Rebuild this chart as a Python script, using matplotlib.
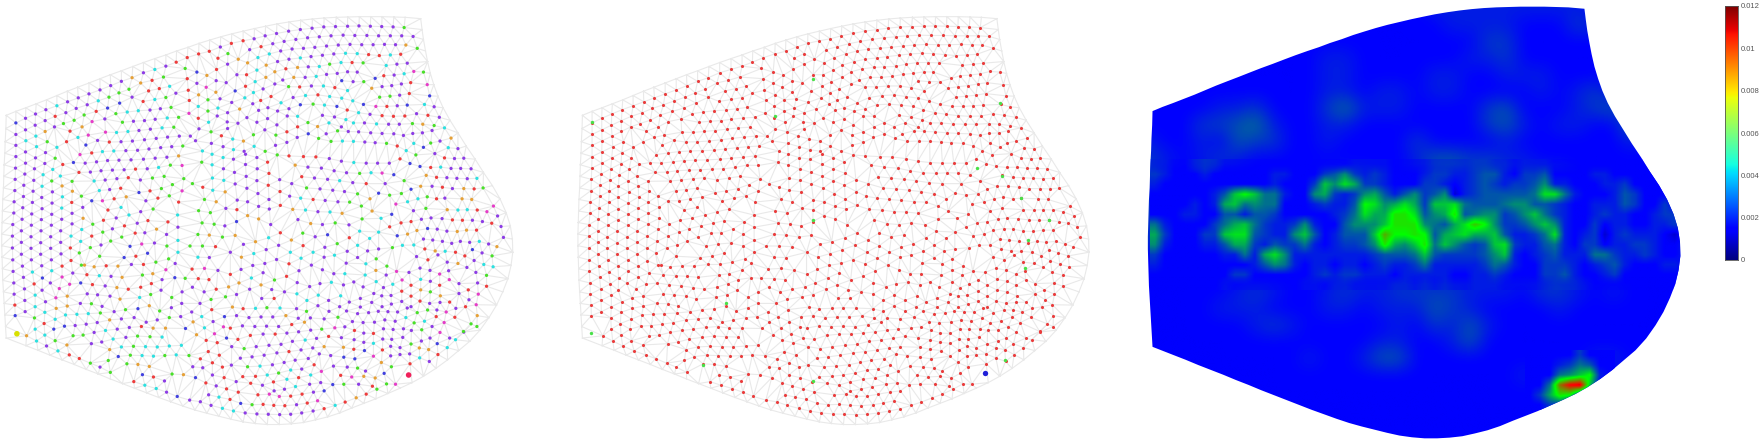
import numpy as np
import matplotlib
matplotlib.use("Agg")
import matplotlib.pyplot as plt
import matplotlib.tri as mtri
from matplotlib.colors import LinearSegmentedColormap
from matplotlib.patches import Polygon
from matplotlib.path import Path

# Mesh outline
outline = [(18,345),(46,333),(75,322),(105,310),(135,298),(165,285),(195,272),(225,260),(258,247),(290,234),(320,222),(352,210),(385,197),(416,185),(449,173),(481,162),(512,150),(545,139),(577,127),(608,117),(640,107),(672,98),(705,90),(738,82),(770,75),(803,68),(838,62),(872,57),(906,53),(940,50),(975,48),(1008,47),(1042,46),(1075,46),(1108,46),(1142,47),(1175,48),(1220,52),
 (1224,85),(1228,115),(1234,150),(1240,182),(1248,218),(1258,252),(1270,287),(1285,322),(1305,360),(1328,398),(1352,438),(1378,478),(1402,518),(1428,558),(1450,598),(1468,640),(1480,680),(1486,720),(1487,760),(1482,800),(1473,840),(1458,880),(1440,920),(1418,958),(1392,996),(1362,1030),(1330,1058),(1298,1086),(1264,1112),(1228,1136),(1195,1155),(1160,1172),(1125,1188),(1090,1204),(1055,1218),(1020,1232),(985,1247),(950,1259),(915,1268),(880,1276),(845,1280),(810,1282),(775,1282),(740,1279),(705,1274),(670,1266),(635,1257),(600,1248),(565,1238),(530,1226),(495,1213),(460,1200),(425,1186),(390,1172),(355,1158),(320,1144),(285,1129),(250,1115),(215,1100),(180,1086),(145,1072),(110,1057),(75,1043),(18,1020),
 (16,985),(14,950),(12,915),(10,880),(8,845),(7,810),(6,775),(5,740),(5,705),(6,670),(7,635),(8,600),(10,565),(11,530),(12,495),(14,460),(15,425),(17,385)]

# Interior nodes: (x, y, colour class in the left panel)
nodes = [
 (1172,79,'g'),(1140,77,'p'),(1107,76,'p'),(1074,75,'p'),(1041,74,'p'),(1008,75,'p'),(973,76,'p'),(939,77,'p'),(905,81,'p'),(871,85,'p'),(837,90,'p'),(802,97,'p'),(769,104,'p'),(737,113,'p'),(705,119,'r'),(671,127,'r'),(639,138,'p'),(607,151,'r'),(576,159,'r'),(543,170,'r'),(511,184,'r'),(481,196,'p'),(449,206,'c'),(416,216,'p'),(383,231,'o'),(352,242,'p'),(321,255,'p'),(290,268,'p'),(258,280,'p'),(227,292,'p'),(196,304,'p'),(165,316,'c'),(133,328,'p'),(103,341,'p'),(74,354,'p'),(46,368,'b'),
 (1198,106,'p'),(1165,104,'p'),(1132,104,'p'),(1098,104,'p'),(1064,103,'p'),(1029,103,'p'),(995,102,'p'),(960,104,'p'),(926,107,'p'),(892,110,'p'),(858,115,'p'),(824,121,'p'),(791,128,'p'),(757,137,'r'),(724,146,'p'),
 (1177,132,'o'),(1147,131,'p'),(1115,130,'p'),(1082,131,'p'),(1049,131,'p'),(1015,130,'p'),(981,132,'p'),(947,135,'p'),(913,139,'p'),(880,142,'p'),(847,144,'p'),(814,150,'p'),(781,159,'c'),(748,170,'c'),(718,186,'o'),(691,175,'o'),(661,158,'g'),(632,172,'r'),
 (1210,142,'g'),(1162,160,'r'),(1132,162,'c'),(1100,164,'r'),(1069,161,'r'),(1036,158,'c'),(1002,157,'c'),(968,159,'p'),(935,163,'p'),(902,167,'p'),(871,171,'c'),(838,175,'p'),(805,182,'p'),(772,193,'o'),(745,208,'c'),(715,222,'r'),(687,222,'p'),(660,190,'p'),(628,206,'r'),(600,224,'o'),(571,214,'b'),(537,203,'g'),(543,234,'r'),
 (1181,187,'p'),(1151,190,'p'),(1120,194,'c'),(1053,186,'g'),(1021,185,'r'),(989,185,'c'),(956,190,'g'),(926,197,'c'),(894,198,'p'),(863,200,'o'),(829,204,'r'),(797,213,'o'),(771,230,'o'),(740,243,'c'),(712,257,'r'),(682,271,'b'),(656,246,'p'),(627,240,'p'),(598,260,'m'),(571,248,'p'),(546,269,'r'),
 (1228,214,'g'),(1200,212,'m'),(1172,219,'c'),(1143,223,'p'),(1113,225,'r'),(1088,233,'b'),(1055,243,'g'),(1024,243,'p'),(991,240,'b'),(1036,214,'p'),(1008,213,'p'),(978,218,'p'),(947,221,'p'),(917,227,'c'),(885,230,'p'),(852,230,'o'),(820,238,'p'),
 (1191,246,'r'),(1164,250,'p'),(1136,255,'p'),(1108,258,'p'),(1078,263,'o'),(1008,270,'c'),(971,261,'r'),(938,256,'c'),(903,256,'p'),(869,259,'r'),(837,258,'g'),(797,250,'p'),(763,265,'p'),(735,276,'c'),(710,292,'c'),
 (1239,252,'m'),(1187,279,'r'),(1159,284,'p'),(1131,287,'g'),(1101,290,'g'),(1023,301,'c'),(991,293,'c'),(956,288,'c'),(922,283,'r'),(886,285,'c'),(850,291,'p'),(815,307,'c'),(786,288,'r'),(756,300,'r'),(733,310,'p'),(672,306,'p'),(638,295,'p'),(603,298,'g'),(576,283,'o'),(549,300,'r'),(626,275,'o'),
 (1246,286,'b'),(1181,314,'b'),(1152,316,'p'),(1122,318,'r'),(1090,318,'m'),(1054,312,'b'),(1007,329,'r'),(977,318,'b'),(941,314,'c'),(908,311,'g'),(871,313,'b'),(838,325,'p'),(805,332,'p'),(777,322,'p'),(750,330,'p'),(695,326,'o'),(660,337,'p'),(632,323,'c'),(603,332,'g'),(575,318,'c'),(548,339,'m'),
 (1259,319,'p'),(1231,312,'c'),(1208,340,'p'),(1174,347,'r'),(1141,348,'r'),(1108,346,'r'),(1073,342,'p'),(1040,337,'c'),(1003,358,'c'),(970,350,'p'),(935,345,'p'),(893,367,'g'),(863,348,'c'),(833,347,'p'),
 (1274,351,'p'),(1241,345,'r'),(1226,372,'o'),(1196,370,'g'),(1259,376,'g'),(1289,383,'c'),(1158,372,'p'),(1127,372,'p'),(1092,371,'c'),(1057,368,'p'),(1025,368,'c'),(990,380,'p'),(954,368,'c'),(921,379,'o'),(863,380,'r'),(832,395,'r'),(803,374,'p'),(776,355,'p'),(745,366,'p'),(716,352,'p'),(690,369,'p'),(659,365,'p'),(630,347,'p'),(605,366,'c'),(575,354,'r'),(577,386,'p'),
 (474,229,'g'),(441,239,'r'),(408,247,'o'),(374,266,'g'),(345,277,'g'),(316,290,'g'),(285,301,'c'),(253,313,'p'),(221,324,'p'),(191,337,'p'),(160,348,'r'),(131,361,'p'),(102,375,'p'),(74,389,'p'),
 (492,257,'c'),(462,264,'r'),(431,271,'r'),(415,303,'r'),(383,290,'p'),(347,308,'b'),(312,323,'b'),(279,333,'r'),(244,344,'g'),(215,360,'g'),(184,370,'g'),(158,380,'p'),(131,394,'o'),(104,408,'c'),(75,422,'c'),
 (510,278,'p'),(481,291,'g'),(449,297,'c'),(496,321,'g'),(465,325,'p'),(435,329,'p'),(401,331,'c'),(369,335,'c'),(336,340,'g'),(304,356,'p'),(267,364,'m'),(238,380,'o'),(203,393,'r'),(193,425,'r'),(226,412,'c'),(256,405,'m'),
 (518,351,'g'),(485,353,'c'),(450,357,'p'),(419,361,'p'),(387,363,'p'),(355,366,'g'),(504,381,'g'),(470,383,'c'),(436,387,'p'),(403,391,'p'),(371,394,'c'),(338,397,'c'),(306,396,'m'),(249,435,'b'),(232,464,'m'),(266,459,'r'),
 (552,408,'p'),(520,408,'p'),(486,411,'p'),(453,415,'p'),(419,419,'p'),(384,423,'p'),(351,425,'p'),(317,426,'r'),(283,421,'p'),(297,455,'c'),(330,453,'c'),(365,452,'p'),(399,451,'p'),(432,447,'p'),(466,443,'p'),(498,440,'p'),(530,438,'g'),(567,422,'p'),(587,453,'c'),(613,430,'p'),(642,407,'r'),(675,417,'c'),(706,423,'o'),(735,404,'g'),(768,389,'p'),(800,405,'g'),(612,395,'g'),(660,385,'p'),
 (518,468,'o'),(484,472,'p'),(450,475,'p'),(416,478,'p'),(380,480,'p'),(345,481,'p'),(312,482,'p'),(280,486,'p'),(247,490,'p'),(213,488,'b'),(182,494,'r'),(160,475,'g'),(165,442,'c'),(137,425,'g'),(106,440,'c'),(74,456,'p'),(46,436,'p'),(46,403,'p'),
 (132,458,'p'),(103,474,'p'),(74,490,'p'),(46,470,'p'),(130,491,'p'),(100,507,'p'),(72,523,'p'),(45,505,'p'),(125,525,'c'),(153,509,'c'),(175,529,'c'),(150,544,'g'),(98,542,'p'),(69,557,'p'),(44,539,'p'),(122,560,'c'),(180,559,'o'),(209,545,'g'),(210,575,'o'),(152,577,'p'),(96,575,'p'),(68,591,'p'),(43,573,'p'),(121,594,'p'),(181,592,'c'),(236,590,'g'),(208,609,'r'),(151,611,'p'),(94,609,'p'),(66,625,'p'),(41,607,'p'),(122,628,'p'),(179,626,'c'),(209,642,'p'),(240,624,'p'),(150,645,'p'),(92,644,'p'),(64,660,'p'),(40,641,'p'),(120,661,'p'),(179,660,'p'),(241,657,'o'),(209,674,'p'),(149,678,'p'),(91,678,'p'),(62,695,'p'),(37,676,'p'),(119,695,'p'),(176,695,'p'),(237,691,'c'),(206,711,'c'),(147,713,'p'),(90,713,'p'),(62,730,'p'),(36,711,'p'),(118,731,'p'),(176,730,'p'),(234,727,'c'),(204,747,'r'),(147,748,'p'),(90,748,'p'),(62,766,'p'),(36,747,'p'),(118,766,'p'),(177,765,'p'),(230,762,'g'),(206,785,'r'),(149,783,'p'),(91,783,'p'),(65,802,'p'),(37,783,'p'),(121,801,'p'),(180,802,'r'),(236,799,'g'),(211,823,'p'),(150,816,'c'),(94,820,'c'),(38,818,'p'),(68,836,'p'),(123,838,'b'),(180,835,'m'),(99,856,'r'),(146,853,'p'),(202,857,'m'),(40,853,'p'),(71,871,'p'),(172,870,'m'),(122,875,'p'),(102,890,'c'),(41,887,'p'),(72,906,'p'),(195,893,'o'),(162,898,'m'),(132,910,'p'),(43,920,'r'),(102,925,'c'),(195,923,'o'),(163,930,'o'),(130,942,'c'),(73,940,'p'),(44,952,'b'),(100,959,'g'),(160,963,'c'),(128,976,'r'),(190,950,'c'),(223,948,'c'),(256,946,'c'),(291,944,'g'),(156,993,'b'),(187,984,'b'),(218,982,'p'),(250,978,'p'),(282,973,'p'),(318,965,'o'),(352,962,'p'),(389,958,'p'),(102,993,'c'),(77,1013,'o'),(130,1011,'c'),(160,1028,'g'),(106,1029,'c'),(135,1044,'p'),(168,1059,'c'),(194,1041,'o'),(212,1013,'g'),(241,1011,'g'),(273,1003,'p'),(306,997,'c'),(340,993,'p'),(375,988,'p'),(410,985,'r'),(444,990,'o'),(480,990,'o'),(538,991,'b'),(570,1010,'o'),(593,989,'c'),(622,1007,'m'),(648,986,'m'),(265,1037,'p'),(295,1032,'p'),(328,1023,'c'),(365,1018,'p'),(399,1014,'g'),(435,1016,'g'),(470,1017,'c'),(201,1071,'r'),(230,1082,'r'),(262,1096,'g'),(290,1108,'p'),(320,1124,'g'),(314,1088,'g'),(343,1076,'b'),(378,1072,'g'),(412,1073,'c'),(445,1075,'c'),(478,1073,'g'),(511,1071,'c'),(548,1073,'g'),(318,1055,'o'),(352,1047,'c'),(387,1045,'g'),(422,1046,'c'),(456,1047,'c'),(491,1044,'c'),(526,1042,'c'),(368,1098,'g'),(400,1100,'o'),(433,1106,'o'),(388,1152,'r'),(420,1163,'c'),(413,1131,'b'),(445,1138,'r'),(453,1173,'c'),(477,1150,'p'),(499,1129,'g'),(532,1131,'o'),(567,1140,'b'),(597,1156,'r'),(627,1165,'p'),(657,1174,'r'),(483,1184,'p'),(514,1197,'b'),(550,1208,'p'),(581,1213,'p'),(612,1224,'p'),(645,1233,'c'),(677,1241,'c'),(711,1247,'p'),(745,1250,'p'),(778,1251,'p'),(811,1252,'p'),(843,1251,'p'),(875,1247,'p'),(908,1241,'p'),(940,1234,'r'),(972,1224,'c'),(1001,1214,'r'),(1033,1201,'o'),(1062,1190,'r'),(1093,1175,'g'),(1121,1159,'g'),(605,1192,'p'),(635,1199,'c'),(667,1206,'r'),(698,1218,'b'),(731,1222,'g'),(763,1221,'r'),(794,1224,'r'),(826,1225,'r'),(860,1222,'p'),(891,1217,'r'),(921,1210,'m'),(691,1184,'r'),(748,1192,'r'),(781,1190,'m'),(810,1197,'m'),(843,1196,'r'),(876,1190,'r'),(909,1184,'p'),(940,1180,'b'),(965,1161,'b'),(997,1160,'g'),(1020,1138,'m'),(1055,1136,'o'),(1088,1141,'o'),(1114,1127,'b'),(988,1133,'r'),(1189,1098,'r'),(1135,1107,'g'),(1106,1094,'o'),(1083,1075,'m'),(1133,1074,'p'),(1160,1070,'p'),(1188,1068,'p'),(1217,1080,'c'),(1245,1091,'p'),(1270,1070,'r'),(1297,1049,'c'),(1321,1025,'c'),(1345,1002,'p'),(1366,977,'g'),(1384,952,'o'),
 (262,517,'p'),(293,513,'p'),(326,511,'p'),(360,510,'p'),(393,508,'r'),(427,507,'p'),(460,503,'c'),(494,496,'g'),(528,497,'m'),(585,487,'g'),(615,495,'c'),(648,507,'p'),(680,518,'p'),(712,494,'p'),(746,507,'p'),(780,521,'r'),(811,540,'p'),(229,518,'r'),(616,535,'c'),(649,542,'c'),(682,553,'p'),(716,566,'p'),(748,582,'p'),(780,600,'p'),(812,576,'r'),(714,530,'p'),(745,543,'p'),(778,557,'r'),
 (273,544,'c'),(305,541,'p'),(339,537,'p'),(372,534,'r'),(407,541,'p'),(442,535,'g'),(476,530,'g'),(500,555,'g'),(533,537,'g'),(558,552,'g'),(588,563,'r'),(617,572,'c'),(653,577,'o'),(288,573,'c'),(318,570,'p'),(350,566,'r'),(366,592,'o'),(403,579,'b'),(435,574,'r'),(468,567,'g'),(491,589,'g'),(528,574,'m'),(266,604,'b'),(297,604,'m'),(331,598,'r'),(423,604,'p'),(458,596,'r'),(518,608,'r'),(593,600,'g'),(627,607,'o'),(655,627,'p'),(688,602,'p'),(718,607,'p'),(750,621,'p'),(351,624,'c'),(313,632,'r'),(444,629,'g'),(408,637,'p'),(374,647,'c'),(576,634,'g'),(610,640,'g'),(687,631,'r'),(718,649,'o'),(750,659,'o'),(781,629,'p'),(813,618,'r'),(849,630,'o'),(886,632,'c'),(922,637,'p'),(957,638,'c'),(992,642,'o'),(300,663,'r'),(337,656,'p'),(398,672,'p'),(429,664,'r'),(487,668,'r'),(515,647,'c'),(586,671,'g'),(621,675,'g'),(652,680,'p'),(686,667,'b'),(785,676,'p'),(864,661,'p'),(901,673,'o'),(935,676,'p'),(972,671,'g'),(1012,677,'p'),(1050,659,'g'),(1014,608,'g'),(269,675,'g'),(326,689,'p'),(361,680,'r'),(298,699,'g'),(392,702,'r'),(420,701,'p'),(454,690,'o'),(483,706,'p'),(516,684,'p'),(574,706,'g'),(607,708,'o'),(645,714,'g'),(682,709,'o'),(813,701,'r'),(878,702,'g'),(914,713,'p'),(950,707,'b'),(1013,716,'r'),(1043,696,'c'),(1079,635,'o'),(1048,620,'g'),(1073,598,'o'),(1037,583,'g'),(266,711,'r'),(321,726,'g'),(353,714,'g'),(293,738,'p'),(377,742,'b'),(411,735,'m'),(448,732,'p'),(516,724,'c'),(484,741,'g'),(551,741,'g'),(587,741,'g'),(625,743,'r'),(706,736,'p'),(741,728,'o'),(779,716,'c'),(845,723,'o'),(879,740,'r'),(808,739,'p'),(772,752,'p'),(736,764,'c'),(700,775,'o'),(668,760,'p'),(942,745,'p'),(978,734,'g'),(1007,757,'p'),(1037,739,'c'),(1072,718,'c'),(262,746,'g'),(289,772,'g'),(360,776,'b'),(394,772,'r'),(428,763,'b'),(489,780,'g'),(516,760,'c'),(574,775,'c'),(607,776,'p'),(842,760,'c'),(873,778,'c'),(908,760,'c'),(838,795,'r'),(802,782,'p'),(768,794,'p'),(733,800,'p'),(699,812,'p'),(940,775,'p'),(970,769,'c'),(1004,793,'p'),(1037,776,'p'),(1066,756,'p'),(1091,780,'g'),(245,799,'o'),(273,804,'o'),(308,801,'r'),(342,802,'o'),(381,797,'p'),(416,797,'r'),(452,790,'g'),(481,813,'m'),(508,794,'p'),(557,811,'r'),(593,809,'m'),(632,815,'p'),(668,827,'r'),(867,816,'p'),(903,799,'p'),(935,813,'p'),(968,825,'p'),(1000,825,'c'),(1061,795,'c'),(1090,815,'o'),(1122,802,'g'),(252,828,'r'),(288,831,'c'),(322,833,'p'),(354,836,'o'),(413,829,'g'),(443,825,'o'),(507,837,'b'),(537,839,'g'),(575,840,'r'),(606,843,'r'),(729,838,'c'),(763,822,'p'),(796,844,'g'),(831,833,'r'),(1059,829,'c'),(1091,849,'c'),(1120,829,'p'),(1150,818,'m'),(234,853,'b'),(268,858,'r'),(305,862,'p'),(339,867,'o'),(372,872,'r'),(408,866,'r'),(439,855,'r'),(470,843,'p'),(693,853,'o'),(757,859,'o'),(862,852,'p'),(898,864,'p'),(928,855,'p'),(961,851,'c'),(996,859,'p'),(1026,850,'p'),(627,872,'r'),(663,865,'o'),(724,872,'p'),(788,873,'p'),(825,880,'p'),(861,886,'c'),(923,890,'c'),(988,892,'c'),(1053,865,'p'),(1084,885,'p'),(1112,867,'p'),(1139,857,'c'),(1166,844,'m'),(1192,860,'r'),(1220,842,'c'),(1248,848,'p'),(1275,860,'r'),(1303,843,'m'),(1331,855,'p'),(1358,874,'r'),(1385,853,'p'),(1411,863,'r'),(1411,830,'g'),(1380,821,'p'),(1354,806,'p'),(1328,794,'o'),(1301,816,'p'),(1275,826,'m'),(1247,815,'p'),(1218,808,'p'),(1186,821,'p'),(253,886,'p'),(283,889,'p'),(319,893,'p'),(348,902,'o'),(405,897,'c'),(437,888,'g'),(467,875,'p'),(498,897,'g'),(528,880,'p'),(558,866,'p'),(592,880,'p'),(654,895,'g'),(612,903,'g'),(580,915,'p'),(686,888,'p'),(759,900,'p'),(795,900,'r'),(890,906,'c'),(953,906,'p'),(1013,911,'p'),(1045,900,'p'),(1078,912,'p'),(1107,892,'p'),(1134,891,'p'),(1165,878,'r'),(1192,893,'r'),(1220,874,'o'),(1248,880,'g'),(1277,892,'o'),(1304,911,'r'),(1331,885,'p'),(1360,904,'p'),(1387,887,'m'),
 (265,916,'g'),(233,915,'p'),(296,924,'p'),(331,940,'p'),(364,934,'g'),(400,931,'b'),(433,922,'o'),(463,938,'g'),(497,928,'p'),(527,915,'p'),(556,941,'p'),(614,934,'r'),(674,926,'o'),(705,931,'r'),(741,930,'c'),(774,928,'g'),(812,929,'c'),(860,931,'p'),(922,922,'p'),(985,925,'p'),(1045,926,'p'),(1108,925,'p'),(1135,917,'p'),(1165,909,'p'),(1192,925,'p'),(1218,908,'r'),(1246,915,'p'),(1276,912,'p'),(1381,919,'m'),(1350,925,'r'),(1322,930,'p'),(1294,941,'m'),(1267,935,'p'),(1240,935,'g'),(1210,943,'g'),(1181,929,'p'),(1153,941,'p'),(1125,940,'p'),(1097,939,'p'),(1069,943,'p'),(1037,946,'p'),(1005,938,'p'),(954,939,'p'),(889,939,'g'),(829,952,'o'),(791,956,'p'),(757,956,'p'),(722,958,'p'),(686,952,'p'),(651,955,'b'),(585,955,'c'),(524,955,'p'),(491,958,'g'),(456,965,'p'),(424,972,'p'),
 (1383,985,'g'),(1319,957,'r'),(1288,973,'m'),(1265,955,'r'),(1231,969,'c'),(1201,974,'g'),(1177,958,'c'),(1146,969,'p'),(1116,965,'p'),(1086,972,'p'),(1053,973,'p'),(1022,970,'p'),(980,957,'g'),(940,962,'p'),(900,959,'p'),(865,960,'p'),(883,972,'o'),(846,979,'r'),(808,985,'p'),(773,984,'p'),(739,985,'p'),(703,983,'p'),(668,990,'r'),(560,971,'o'),(618,970,'p'),
 (1253,985,'p'),(1223,995,'g'),(1193,997,'p'),(1170,992,'p'),(1140,994,'p'),(1112,992,'p'),(1083,1006,'r'),(1055,1005,'p'),(1028,997,'r'),(1000,986,'p'),(971,989,'m'),(933,993,'g'),(901,996,'p'),(866,1001,'p'),(832,1005,'p'),(798,1008,'r'),(763,1008,'p'),(726,1012,'r'),(690,1024,'r'),(657,1020,'b'),(630,1034,'r'),(598,1027,'r'),
 (1344,1000,'g'),(1304,1020,'p'),(1276,1003,'m'),(1247,1020,'p'),(1222,1029,'p'),(1192,1038,'g'),(1168,1018,'p'),(1136,1024,'p'),(1110,1023,'p'),(1083,1036,'c'),(1055,1033,'p'),(1027,1025,'p'),(990,1019,'p'),(953,1015,'r'),(918,1021,'p'),(885,1026,'c'),(848,1030,'p'),(815,1039,'p'),(780,1042,'p'),(743,1046,'p'),(708,1052,'g'),(672,1046,'p'),(636,1072,'r'),(604,1061,'r'),(581,1083,'r'),
 (1268,1037,'b'),(1243,1055,'o'),(1216,1050,'o'),(1160,1049,'p'),(1133,1045,'p'),(1109,1056,'r'),(1057,1058,'b'),(1026,1054,'r'),(996,1048,'o'),(940,1046,'o'),(907,1050,'p'),(873,1056,'p'),(838,1061,'r'),(803,1065,'p'),(766,1072,'p'),(731,1077,'p'),(697,1081,'p'),(671,1102,'p'),(645,1108,'r'),(616,1095,'r'),(588,1110,'p'),(559,1107,'p'),
 (1029,1083,'b'),(997,1078,'b'),(959,1073,'p'),(926,1068,'p'),(894,1082,'p'),(856,1087,'p'),(824,1094,'p'),(790,1101,'p'),(754,1105,'c'),(718,1107,'g'),(911,1101,'r'),(875,1114,'p'),(843,1117,'c'),(808,1126,'g'),(775,1132,'c'),(741,1136,'r'),(704,1137,'r'),(1037,1111,'g'),(1007,1108,'p'),(967,1105,'p'),(932,1121,'m'),(901,1132,'c'),(866,1140,'r'),(832,1145,'c'),(793,1153,'r'),(761,1163,'p'),(727,1157,'r'),(685,1152,'p'),(650,1140,'r'),(616,1132,'p'),
 (1147,1160,'m'),(1080,1166,'r'),(1040,1160,'p'),(1060,1120,'p'),(857,1167,'c'),(898,1160,'p'),(930,1155,'p'),(825,1175,'p'),(795,1180,'p'),
 (1297,631,'o'),(1328,632,'c'),(1355,631,'c'),(1384,632,'r'),(1412,637,'m'),(1431,620,'m'),(1443,650,'p'),(1453,682,'p'),(1460,715,'p'),(1441,743,'o'),(1427,771,'g'),(1430,804,'c'),(1403,797,'c'),(1375,785,'p'),(1348,771,'r'),(1321,760,'r'),(1291,757,'c'),(1262,756,'o'),(1232,750,'r'),(1200,738,'c'),(1167,739,'c'),(1138,746,'g'),(1098,750,'p'),(1208,773,'p'),(1241,783,'r'),(1270,768,'p'),(1297,790,'p'),(1370,752,'b'),(1398,762,'p'),(1417,735,'p'),(1390,727,'c'),(1362,730,'p'),(1335,727,'p'),(1310,733,'p'),(1283,727,'p'),(1255,723,'p'),(1228,720,'p'),(1182,705,'o'),(1152,710,'b'),(1130,683,'r'),(1098,699,'c'),(1105,657,'c'),(1136,645,'b'),(1163,671,'r'),(1192,667,'r'),(1222,660,'p'),(1250,656,'p'),(1282,658,'p'),(1312,662,'r'),(1341,663,'r'),(1370,663,'p'),(1399,667,'p'),(1426,672,'r'),(1382,693,'r'),(1353,693,'o'),(1326,697,'o'),(1296,696,'p'),(1268,690,'p'),(1240,688,'b'),(1209,694,'o'),
 (1401,565,'g'),(1375,568,'r'),(1345,567,'o'),(1312,567,'p'),(1283,563,'r'),(1253,560,'p'),(1220,560,'o'),(1192,569,'b'),(1164,582,'g'),(1130,587,'g'),(1098,581,'b'),(1148,614,'m'),(1182,607,'c'),(1212,598,'c'),(1239,592,'g'),(1266,598,'r'),(1290,596,'p'),(1340,598,'o'),(1368,600,'o'),(1235,627,'g'),(1199,634,'p'),(1383,536,'c'),(1355,537,'p'),(1325,536,'p'),(1296,534,'p'),(1266,533,'r'),(1236,527,'o'),(1172,543,'g'),(1142,525,'b'),(1108,520,'m'),(1076,519,'c'),(1043,521,'g'),(1023,549,'p'),(1062,552,'r'),(1117,552,'p'),(1366,507,'p'),(1336,506,'p'),(1308,506,'p'),(1278,502,'c'),(1249,503,'r'),(1218,500,'b'),(1189,491,'b'),(1160,477,'r'),(1129,490,'p'),(1095,490,'p'),(1062,490,'p'),(1026,488,'c'),(990,484,'p'),(955,476,'p'),(916,471,'r'),(880,470,'r'),(838,468,'r'),(804,465,'g'),(776,487,'r'),(745,473,'p'),(712,463,'p'),(677,478,'p'),(647,473,'c'),(615,463,'c'),(1345,475,'p'),(1318,476,'p'),(1289,474,'r'),(1261,461,'p'),(1206,465,'g'),(1178,452,'c'),(1152,438,'r'),(1121,430,'g'),(1088,428,'p'),(1058,426,'p'),(1025,424,'c'),(993,423,'c'),(960,424,'g'),(924,415,'g'),(894,401,'b'),(862,412,'p'),(832,427,'p'),(799,436,'p'),(769,454,'g'),(737,439,'c'),(708,454,'p'),(677,449,'c'),(647,440,'p'),(1328,446,'p'),(1300,443,'c'),(1276,423,'p'),(1249,429,'g'),(1228,442,'b'),(1200,430,'c'),(1308,414,'o'),(1253,391,'p'),(1225,398,'p'),(1197,400,'p'),(1170,406,'p'),(1142,401,'p'),(1108,400,'p'),(1075,398,'p'),(1040,395,'p'),(1010,394,'p'),(979,392,'g'),(946,401,'p'),(856,496,'o'),(893,502,'p'),(932,505,'p'),(969,513,'p'),(1005,519,'p'),(875,531,'r'),(912,535,'p'),(950,539,'p'),(985,543,'c'),(846,552,'p'),(889,565,'g'),(928,568,'p'),(965,572,'p'),(999,576,'p'),(840,590,'p'),(872,596,'c'),(908,600,'r'),(943,603,'p'),(980,607,'p'),
]

# Left panel colours per class
class_colors = {'p':'#8d3ce6','r':'#ee3c3c','c':'#2ce0e0','g':'#48e028','o':'#e6a036','b':'#4040e0','m':'#e53cc8'}

# Special nodes, left panel
left_big_x = [49, 1185]
left_big_y = [1007, 1132]
left_big_c = ['#d8e000', '#f0205a']

# Special nodes, middle panel (same mesh coordinates)
mid_green_x = [47,686,577,1230,1163,1235,1290,1370,1311,1302,686,434,44,367,687,1244]
mid_green_y = [366,235,347,307,505,529,595,662,722,808,661,915,1005,1102,1151,1088]
mid_blue_x = [1185]
mid_blue_y = [1125]

# Right panel: coarse field on a regular grid, in units of 0.0005 (31 columns, 27 rows)
field_rows = [
 [3,3,3,3,3,3,3,3,3,3,3,3,3,3,3,3,4,4,4,4,4,4,4,4,4,3,3,3,3,3,3],
 [3,3,3,3,3,3,3,3,3,3,3,3,3,3,3,3,3,4,4,4,4,3,3,3,5,4,3,3,3,3,3],
 [3,3,3,3,3,3,3,3,3,3,3,3,3,3,3,3,3,3,3,5,5,3,3,3,3,3,3,3,3,3,3],
 [3,3,3,3,3,3,3,3,3,3,4,4,3,3,3,3,3,3,4,4,5,3,3,3,3,3,3,3,3,3,3],
 [3,3,3,3,3,3,3,3,3,3,4,4,3,3,3,3,4,4,3,3,4,4,4,3,3,3,3,3,3,3,3],
 [3,3,3,3,3,3,3,3,3,3,4,4,3,4,4,3,4,4,3,3,3,3,4,3,4,5,3,3,3,3,3],
 [3,3,3,3,4,4,5,3,3,3,5,7,4,4,4,3,3,3,3,5,6,3,3,3,4,5,6,3,3,3,3],
 [3,3,3,5,5,6,7,4,3,3,4,4,3,3,3,3,3,3,3,5,6,4,3,4,4,3,3,7,3,3,3],
 [4,3,3,4,3,6,5,5,3,3,4,3,3,3,3,5,3,3,3,3,4,3,3,3,3,3,3,4,3,3,3],
 [5,4,3,4,5,4,3,3,3,3,3,3,3,3,3,4,6,6,5,5,4,4,3,3,3,3,3,3,3,3,3],
 [5,3,3,3,3,3,3,3,3,3,4,4,4,3,3,4,5,6,4,6,5,4,5,5,3,3,3,3,3,3,3],
 [4,3,3,3,3,3,3,3,3,3,3,4,4,4,4,4,5,4,4,5,5,4,4,4,3,3,3,3,3,3,3],
 [5,3,3,3,3,3,3,3,3,3,3,4,4,4,4,4,5,4,4,5,5,4,4,4,3,3,3,3,3,3,3],
 [5,3,3,3,3,3,3,3,3,3,3,4,4,4,4,4,4,4,4,4,4,4,4,4,3,3,3,3,3,3,5],
 [5,3,3,3,3,3,3,3,3,3,3,4,4,4,4,4,4,4,4,4,4,4,4,4,3,3,3,3,3,3,5],
 [3,3,3,3,3,3,3,3,3,3,3,4,4,4,4,4,4,4,4,4,4,4,4,4,3,3,3,3,3,3,3],
 [3,3,3,3,3,3,3,3,3,3,3,4,4,4,4,4,4,4,4,4,4,4,4,4,3,3,3,3,3,3,3],
 [3,3,3,3,3,4,5,4,3,3,4,5,4,4,5,5,5,5,4,4,4,3,5,5,4,3,4,3,3,3,3],
 [3,3,3,3,4,4,4,3,3,3,4,4,3,4,4,4,6,5,4,3,3,3,3,4,3,3,3,3,3,3,3],
 [3,3,3,3,3,3,4,5,4,3,3,3,3,3,4,3,5,4,6,4,3,3,3,3,3,3,3,3,3,3,3],
 [3,3,3,3,3,3,3,3,3,3,3,3,3,4,4,3,3,4,6,3,3,3,3,3,3,3,3,3,3,3,3],
 [3,3,3,3,3,3,3,3,3,4,3,3,4,6,6,3,3,3,3,3,3,3,3,3,3,4,4,3,3,3,3],
 [3,3,3,3,3,3,3,3,3,3,3,3,3,3,3,3,3,3,3,3,3,4,3,3,4,3,3,3,3,3,3],
 [3,3,3,3,3,3,3,3,3,3,3,3,3,3,3,3,3,3,3,3,3,3,3,3,3,3,3,3,3,3,3],
 [3,3,3,3,3,3,3,3,3,3,3,3,3,3,3,3,3,3,3,3,3,3,3,3,3,3,3,3,3,3,3],
 [3,3,3,3,3,3,3,3,3,3,3,3,3,3,3,3,3,3,3,3,3,3,3,3,3,3,3,3,3,3,3],
 [3,3,3,3,3,3,3,3,3,3,3,3,3,3,3,3,3,3,3,3,3,3,3,3,3,3,3,3,3,3,3],
]
# Fine field for the central band (x px 1150-1690, y px 160-290, 10 px cells)
band_left_rows = [
 [4,4,3,3,5,6,5,3,3,3,3,3,3,3,3,3,3,3,3,3,4,4,4,4,3,3,3],
 [5,4,3,3,3,4,3,3,3,3,3,3,4,4,3,3,3,5,6,8,5,4,5,4,3,3,3],
 [4,3,3,3,3,3,3,3,3,3,3,3,4,3,3,3,5,10,8,11,9,5,5,4,3,3,3],
 [3,3,3,3,3,3,4,6,10,12,10,7,7,4,3,3,8,9,5,4,5,8,9,6,4,6,8],
 [3,3,3,3,4,3,4,9,10,7,8,7,7,3,3,3,4,5,4,4,6,12,11,8,9,11,9],
 [3,3,3,4,4,3,3,6,6,4,6,6,5,3,3,3,3,3,4,5,7,11,9,9,13,13,11],
 [7,4,3,3,3,3,5,7,9,10,7,5,4,4,5,8,4,3,3,6,8,8,8,10,13,13,13],
 [9,5,3,3,3,5,5,10,11,11,6,5,4,4,8,10,6,3,4,6,6,6,10,15,12,12,13],
 [8,4,3,3,3,4,4,6,9,9,5,4,6,5,5,7,4,3,4,5,5,6,8,13,9,8,10],
 [5,3,3,3,3,3,3,4,4,7,4,9,11,8,4,4,4,4,4,4,4,4,5,6,6,6,7],
 [4,3,3,3,3,3,3,3,3,3,4,6,8,7,4,3,4,4,3,4,4,3,4,5,4,4,5],
 [3,3,3,3,3,3,3,3,5,5,3,3,3,3,3,3,4,5,4,5,5,4,4,4,3,4,4],
 [3,3,3,3,3,3,3,4,3,3,3,3,3,3,3,4,4,3,4,4,3,3,3,3,4,4,3],
]
band_right_rows = [
 [3,4,4,4,4,5,5,4,4,3,4,4,4,3,3,3,3,3,3,3,3,3,3,3,3,3,3],
 [4,5,5,4,4,5,6,6,4,3,5,5,6,3,3,3,3,4,4,3,3,3,3,3,3,3,3],
 [5,5,4,3,4,5,6,5,4,5,5,6,8,4,4,3,3,3,4,4,5,3,3,3,3,3,3],
 [5,6,8,2,4,5,6,6,6,6,6,7,11,11,7,4,3,3,3,4,6,5,3,3,3,3,3],
 [5,10,10,11,7,6,6,6,7,8,8,6,6,5,4,3,3,4,4,4,6,5,3,3,5,3,3],
 [6,8,9,13,6,7,8,8,5,6,8,10,7,5,4,3,3,4,5,4,4,3,3,4,5,5,3],
 [8,7,6,9,11,14,12,8,5,5,6,8,10,8,4,3,3,5,3,4,4,3,3,4,4,5,4],
 [12,6,9,10,11,9,9,10,6,4,4,5,7,11,4,3,4,5,2,4,5,4,4,4,3,2,4],
 [13,7,10,8,6,5,6,10,11,5,4,4,6,7,4,3,5,5,3,4,4,5,5,4,3,3,4],
 [10,6,5,5,5,5,6,8,10,4,3,4,5,6,4,4,4,7,7,5,4,4,5,4,3,3,4],
 [7,4,4,4,4,4,5,7,6,4,3,3,5,5,5,4,3,4,5,6,4,3,3,3,4,4,3],
 [4,4,4,3,3,4,4,5,4,3,3,3,5,5,6,4,3,3,4,5,3,3,3,3,3,3,3],
 [4,3,4,3,3,4,4,4,3,3,3,3,4,5,5,5,4,3,3,3,3,3,3,3,3,3,3],
]
# Fine field for the hot spot (x px 1525-1615, y px 350-410, 10 px cells)
hot_rows = [
 [3,3,3,3,3,5,3,3,3],
 [3,3,3,4,5,7,6,3,3],
 [3,3,3,7,8,10,12,4,3],
 [3,3,7,17,21,22,10,3,3],
 [3,5,9,13,12,5,3,3,3],
 [3,3,5,5,3,3,3,3,3],
]
field_unit = 0.0005
cbar_ticks = [0, 0.002, 0.004, 0.006, 0.008, 0.01, 0.012]
cbar_labels = ['0', '0.002', '0.004', '0.006', '0.008', '0.01', '0.012']

W, H = 1760, 442
fig = plt.figure(figsize=(W / 100, H / 100), dpi=100, facecolor='white')

nx = np.array([n[0] for n in nodes], float)
ny = np.array([n[1] for n in nodes], float)
nc = [class_colors[n[2]] for n in nodes]
ox = np.array([p[0] for p in outline], float)
oy = np.array([p[1] for p in outline], float)
allx = np.concatenate([nx, ox])
ally = np.concatenate([ny, oy])
tri = mtri.Triangulation(allx, ally)
poly = Path(np.column_stack([ox, oy]))
cx = allx[tri.triangles].mean(axis=1)
cy = ally[tri.triangles].mean(axis=1)
tri.set_mask(~poly.contains_points(np.column_stack([cx, cy])))


def panel(left):
    ax = fig.add_axes([left / W, 0, 540 / W, 1])
    ax.set_xlim(0, 540 * 2.9)
    ax.set_ylim(1335, -4.5)
    ax.axis('off')
    ax.triplot(tri, color='#e9e9e9', lw=0.8, zorder=1)
    return ax


ax1 = panel(0)
ax1.scatter(nx, ny, s=5.5, c=nc, linewidths=0, zorder=2)
ax1.scatter(left_big_x, left_big_y, s=16, c=left_big_c, linewidths=0, zorder=3)

ax2 = panel(576.2)
ax2.scatter(nx, ny, s=5, c='#ea3c3c', linewidths=0, zorder=2)
ax2.scatter(mid_green_x, mid_green_y, s=6, c='#48e048', linewidths=0, zorder=3)
ax2.scatter(mid_blue_x, mid_blue_y, s=15, c='#2020d8', linewidths=0, zorder=3)

# Right panel
field_cmap = LinearSegmentedColormap.from_list('field', [(0, (0, 0, .5)), (.125, (0, 0, 1)), (.5, (0, 1, 0)), (.875, (1, 0, 0)), (1, (.5, 0, 0))])
ax3 = fig.add_axes([1140 / W, 0, 560 / W, 1])
field = np.array(field_rows, float) * field_unit
rows, cols = field.shape
sx = 2.8  # data units per pixel, x
sy = 3.0  # data units per pixel, y
common = dict(cmap=field_cmap, vmin=0, vmax=0.012, aspect='auto')
im = ax3.imshow(field, interpolation='bicubic', extent=(0, cols * 50, rows * 50, 0), zorder=1, **common)
band = np.hstack([np.array(band_left_rows, float), np.array(band_right_rows, float)]) * field_unit
band_alpha = np.ones(band.shape)
band_alpha[0] = 0.45
band_alpha[-1] = 0.45
im_band = ax3.imshow(band, interpolation='bilinear', alpha=band_alpha,
                     extent=((1150 - 1140) * sx, (1690 - 1140) * sx, 290 * sy, 160 * sy), zorder=2, **common)
hot = np.array(hot_rows, float) * field_unit
im_hot = ax3.imshow(hot, interpolation='bilinear',
                    extent=((1525 - 1140) * sx, (1615 - 1140) * sx, 410 * sy, 350 * sy), zorder=3, **common)
ax3.set_xlim(0, 560 * sx)
ax3.set_ylim(442 * sy, 0)
ax3.axis('off')
X3 = 22 + (ox - 5) * 1491 / 1482
Y3 = 20 + (oy - 46) * 1295 / 1236
clip = Polygon(np.column_stack([X3, Y3]), closed=True, transform=ax3.transData, fc='none', ec='none')
ax3.add_patch(clip)
for image in (im, im_band, im_hot):
    image.set_clip_path(clip)

# Colour bar
cax = fig.add_axes([1725 / W, 1 - 260 / H, 12.5 / W, 254 / H])
grad = np.linspace(0, 0.012, 256).reshape(-1, 1)
cax.imshow(grad, cmap='jet', origin='lower', aspect='auto', extent=(0, 1, 0, 0.012), vmin=0, vmax=0.012)
cax.set_xticks([])
cax.yaxis.tick_right()
cax.set_yticks(cbar_ticks)
cax.set_yticklabels(cbar_labels, fontsize=5.5, color='#555555', family='Liberation Sans')
cax.tick_params(axis='y', length=0, pad=2)
for s in cax.spines.values():
    s.set_edgecolor('#555555')
    s.set_linewidth(0.6)

fig.savefig('out.png', dpi=100, facecolor='white')
